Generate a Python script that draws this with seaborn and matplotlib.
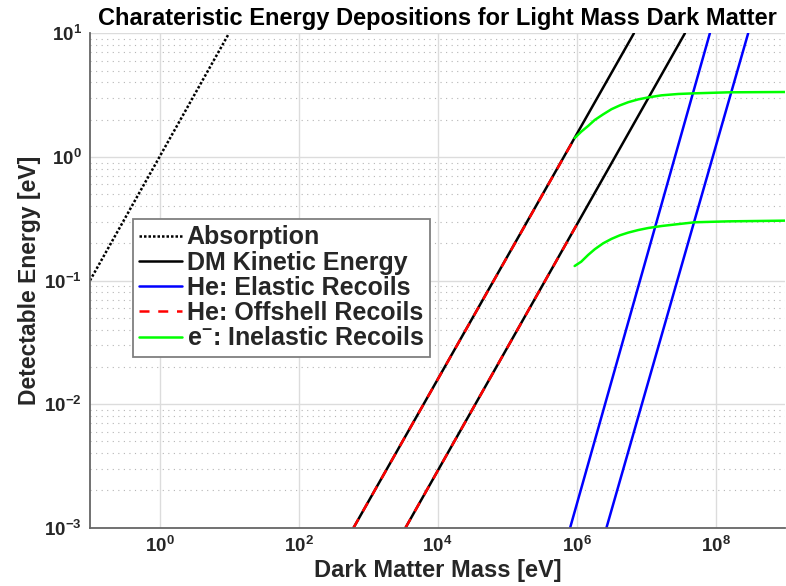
import numpy as np
import pandas as pd
import matplotlib
matplotlib.use("Agg")
import matplotlib.pyplot as plt
import seaborn as sns
from matplotlib.ticker import FixedLocator, LogLocator, NullLocator, NullFormatter

# ---------------- data ----------------
# Absorption: E = m
abs_mass = [1e-1, 1e1]
abs_energy = [1e-1, 1e1]

# DM kinetic energy (two velocities)
ke_fast_mass = [6.2e2, 6.7e6]
ke_fast_energy = [1e-3, 1e1]
ke_slow_mass = [3.47e3, 3.63e7]
ke_slow_energy = [1e-3, 1e1]

# He: offshell recoils (overlapping kinetic lines up to ~1 MeV)
off_fast_mass = [6.2e2, 9.4e5]
off_fast_energy = [1e-3, 1.42]
off_slow_mass = [3.47e3, 1.0e6]
off_slow_energy = [1e-3, 0.28]

# He: elastic recoils
el_a_mass = [8.1e5, 8.3e7]
el_a_energy = [1e-3, 1e1]
el_b_mass = [2.7e6, 2.95e8]
el_b_energy = [1e-3, 1e1]

# e-: inelastic recoils
inel_mass = [9.4e5, 1.17e6, 1.47e6, 1.83e6, 2.42e6, 3.18e6, 4.20e6, 5.55e6,
             7.73e6, 1.08e7, 1.68e7, 2.92e7, 5.09e7, 1.55e8, 1.0e9]
inel_hi_energy = [1.42, 1.60, 1.78, 1.99, 2.21, 2.43, 2.61, 2.77,
                  2.92, 3.03, 3.15, 3.23, 3.27, 3.33, 3.35]
inel_lo_energy = [0.131, 0.142, 0.161, 0.179, 0.200, 0.217, 0.232, 0.244,
                  0.256, 0.266, 0.276, 0.286, 0.296, 0.301, 0.305]

x_ticks = [1e0, 1e2, 1e4, 1e6, 1e8]
y_ticks = [1e-3, 1e-2, 1e-1, 1e0, 1e1]

legend_labels = ["Absorption", "DM Kinetic Energy", "He: Elastic Recoils",
                 "He: Offshell Recoils", "e$^{-}$: Inelastic Recoils"]

# ---------------- style ----------------
sns.set_style("white")
plt.rcParams["font.family"] = ["Liberation Sans", "DejaVu Sans"]
plt.rcParams["font.weight"] = "bold"
plt.rcParams["mathtext.fontset"] = "custom"
plt.rcParams["mathtext.rm"] = "Liberation Sans:bold"
plt.rcParams["mathtext.bf"] = "Liberation Sans:bold"
plt.rcParams["mathtext.it"] = "Liberation Sans:bold:italic"
plt.rcParams["mathtext.default"] = "bf"

fig = plt.figure(figsize=(7.86, 5.86), dpi=100)
ax = fig.add_axes([90 / 786, 1 - 527.7 / 586, 695 / 786, 494.4 / 586])

LW = 1.8

def draw(x, y, color, **kw):
    df = pd.DataFrame({"mass": x, "energy": y})
    sns.lineplot(data=df, x="mass", y="energy", ax=ax, color=color, lw=LW,
                 estimator=None, sort=False, legend=False, **kw)
    return ax.lines[-1]

h_abs = draw(abs_mass, abs_energy, "black")
h_abs.set_dashes([1.0, 0.8])
h_ke = draw(ke_fast_mass, ke_fast_energy, "black")
draw(ke_slow_mass, ke_slow_energy, "black")
h_off = draw(off_fast_mass, off_fast_energy, "red")
h_off.set_dashes([4, 3.5])
h2 = draw(off_slow_mass, off_slow_energy, "red")
h2.set_dashes([4, 3.5])
h_el = draw(el_a_mass, el_a_energy, "blue")
draw(el_b_mass, el_b_energy, "blue")
h_in = draw(inel_mass, inel_hi_energy, "#00ff00")
draw(inel_mass, inel_lo_energy, "#00ff00")

ax.set_xscale("log")
ax.set_yscale("log")
ax.set_xlim(1e-1, 1e9)
ax.set_ylim(1e-3, 1e1)

ax.xaxis.set_major_locator(FixedLocator(x_ticks))
ax.xaxis.set_minor_locator(NullLocator())
ax.yaxis.set_major_locator(FixedLocator(y_ticks))
ax.yaxis.set_minor_locator(LogLocator(base=10, subs=np.arange(2, 10)))
ax.yaxis.set_minor_formatter(NullFormatter())

ax.grid(which="major", color="#dcdcdc", lw=1.0, ls="-")
ax.grid(which="minor", axis="y", color="#b5b5b5", lw=0.8, ls=(0, (1, 4)))
ax.set_axisbelow(True)

for s in ["top", "right"]:
    ax.spines[s].set_visible(False)
for s in ["left", "bottom"]:
    ax.spines[s].set_color("#666666")
    ax.spines[s].set_linewidth(1.3)

ax.tick_params(which="major", direction="in", length=4, width=1.0,
               color="#444444", labelsize=13.5, labelcolor="#262626", pad=6)
ax.tick_params(which="minor", direction="in", length=2.5, width=0.8,
               color="#444444")

ax.set_xlabel("Dark Matter Mass [eV]", fontsize=17, fontweight="bold",
              color="#262626", labelpad=2)
ax.set_ylabel("Detectable Energy [eV]", fontsize=16.5, fontweight="bold",
              color="#262626", labelpad=2)
ax.set_title("Charateristic Energy Depositions for Light Mass Dark Matter",
             fontsize=17, fontweight="bold", color="black", pad=6)

leg = ax.legend([h_abs, h_ke, h_el, h_off, h_in], legend_labels,
                loc="upper left", bbox_to_anchor=(0.062, 0.624),
                borderaxespad=0, prop={"weight": "bold", "size": 18},
                frameon=True, fancybox=False, framealpha=1, edgecolor="#7f7f7f",
                handlelength=1.7, handletextpad=0.2, labelspacing=0.05,
                borderpad=0.25)
leg.get_frame().set_linewidth(1.3)

fig.savefig("out.png", dpi=100)
